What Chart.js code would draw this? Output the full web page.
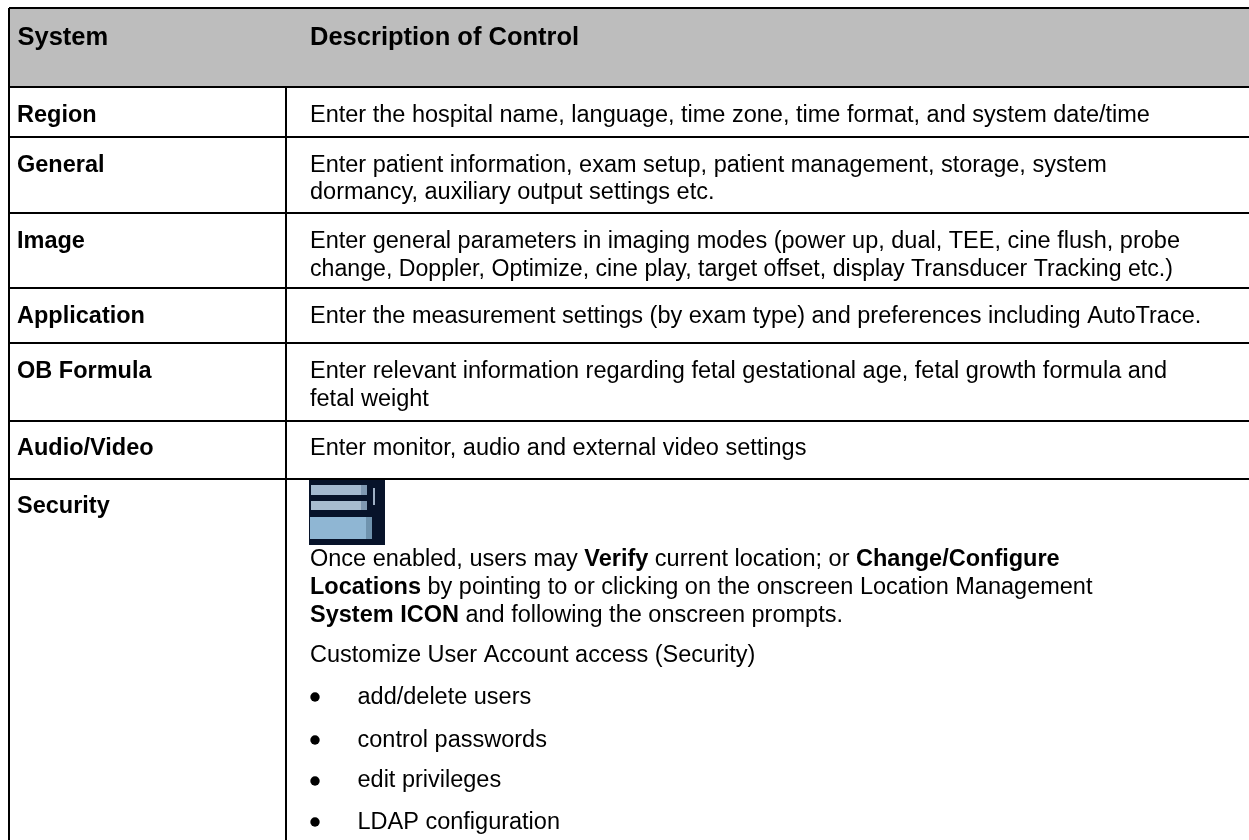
<!DOCTYPE html>
<html>
<head>
	<meta charset="UTF-8">
	<title>System controls</title>
	<script src="https://cdn.jsdelivr.net/npm/chart.js@4"></script>
	<style>
		html, body { margin: 0; background: #fff; }
		canvas { display: block; }
	</style>
	<script>
		// table content
		var headers = ["System", "Description of Control"];
		var systems = ["Region", "General", "Image", "Application", "OB Formula", "Audio/Video", "Security"];
		// *text* means bold
		var descriptions = [
			"Enter the hospital name, language, time zone, time format, and system date/time",
			"Enter patient information, exam setup, patient management, storage, system",
			"dormancy, auxiliary output settings etc.",
			"Enter general parameters in imaging modes (power up, dual, TEE, cine flush, probe",
			"change, Doppler, Optimize, cine play, target offset, display Transducer Tracking etc.)",
			"Enter the measurement settings (by exam type) and preferences including AutoTrace.",
			"Enter relevant information regarding fetal gestational age, fetal growth formula and",
			"fetal weight",
			"Enter monitor, audio and external video settings",
			"Once enabled, users may *Verify* current location; or *Change/Configure*",
			"*Locations* by pointing to or clicking on the onscreen Location Management",
			"*System ICON* and following the onscreen prompts.",
			"Customize User Account access (Security)"
		];
		var bullets = ["add/delete users", "control passwords", "edit privileges", "LDAP configuration"];

		// layout, in the units of the two scales (page pixels)
		var columnEdges = [9, 286];
		var rowEdges = [8, 87, 137, 213, 288, 343, 421, 479];
		var headerBaseline = 45;
		var systemBaselines = [122, 172, 248, 323, 378, 455, 513];
		var descriptionBaselines = [122, 172, 199, 248, 276, 323, 378, 406, 455, 566, 594, 622, 662];
		var bulletBaselines = [704, 747, 787, 829];
		var bulletCentres = [697, 740, 781, 822];
		// this line is set a little tighter in the original
		var tightLine = 4, tightWidth = 863;

		function drawRuns(ctx, line, x, y, size, maxWidth) {
			line.split('*').forEach(function(run, i) {
				ctx.font = (i % 2 ? 'bold ' : '') + size + 'px "Liberation Sans", Arial, sans-serif';
				if (maxWidth) ctx.fillText(run, x, y, maxWidth);
				else ctx.fillText(run, x, y);
				x += ctx.measureText(run).width;
			});
		}

		// grey header band and the little screenshot icon
		var tableBack = {
			id: 'tableBack',
			beforeDatasetsDraw: function(chart) {
				var ctx = chart.ctx, sx = chart.scales.x, sy = chart.scales.y;
				function block(x0, y0, x1, y1, colour) {
					ctx.fillStyle = colour;
					ctx.fillRect(sx.getPixelForValue(x0), sy.getPixelForValue(y0), x1 - x0, y1 - y0);
				}
				block(10, 9, 1249, 86, '#bdbdbd');
				block(309, 480, 385, 545, '#07132a');
				block(311, 485, 367, 495, '#a3b9cf');
				block(361, 485, 367, 495, '#7f98b2');
				block(311, 501, 367, 510, '#a8bccf');
				block(361, 501, 367, 510, '#7f98b2');
				block(310, 517, 372, 539, '#8fb6d3');
				block(366, 517, 372, 539, '#6f93ae');
				block(373, 488, 375, 505, '#9fb0c4');
			}
		};

		var tableText = {
			id: 'tableText',
			afterDraw: function(chart) {
				var ctx = chart.ctx, sx = chart.scales.x, sy = chart.scales.y;
				ctx.save();
				ctx.fillStyle = '#000';
				ctx.textBaseline = 'alphabetic';
				drawRuns(ctx, '*' + headers[0] + '*', sx.getPixelForValue(17.5), sy.getPixelForValue(headerBaseline), 25.5);
				drawRuns(ctx, '*' + headers[1] + '*', sx.getPixelForValue(310), sy.getPixelForValue(headerBaseline), 25.5);
				systems.forEach(function(s, i) {
					drawRuns(ctx, '*' + s + '*', sx.getPixelForValue(17), sy.getPixelForValue(systemBaselines[i]), 23.5);
				});
				descriptions.forEach(function(d, i) {
					drawRuns(ctx, d, sx.getPixelForValue(310), sy.getPixelForValue(descriptionBaselines[i]), 23.5,
						i === tightLine ? tightWidth : null);
				});
				bullets.forEach(function(b, i) {
					drawRuns(ctx, b, sx.getPixelForValue(357.5), sy.getPixelForValue(bulletBaselines[i]), 23.5);
				});
				ctx.restore();
			}
		};

		window.onload = function() {
			var ctx = document.getElementById("chart_table").getContext('2d');
			new Chart(ctx, {
				type: 'scatter',
				data: {
					datasets: [{
						data: bulletCentres.map(function(y) { return { x: 315, y: y }; }),
						backgroundColor: '#000',
						borderWidth: 0,
						pointRadius: 4.7
					}]
				},
				options: {
					responsive: false,
					animation: false,
					layout: { autoPadding: false, padding: { left: 9, top: 8 } },
					plugins: { legend: { display: false }, tooltip: { enabled: false } },
					scales: {
						x: {
							type: 'linear', min: 9, max: 1249,
							afterBuildTicks: function(axis) {
								axis.ticks = columnEdges.map(function(v) { return { value: v }; });
							},
							ticks: { display: false },
							border: { display: false },
							grid: { color: '#000', lineWidth: 2, drawTicks: false }
						},
						y: {
							type: 'linear', min: 8, max: 840, reverse: true,
							afterBuildTicks: function(axis) {
								axis.ticks = rowEdges.map(function(v) { return { value: v }; });
							},
							ticks: { display: false },
							border: { display: false },
							grid: { color: '#000', lineWidth: 2, drawTicks: false }
						}
					}
				},
				plugins: [tableBack, tableText]
			});
		};
	</script>
</head>
<body>
	<canvas id="chart_table" width="1249" height="840"></canvas>
</body>
</html>
